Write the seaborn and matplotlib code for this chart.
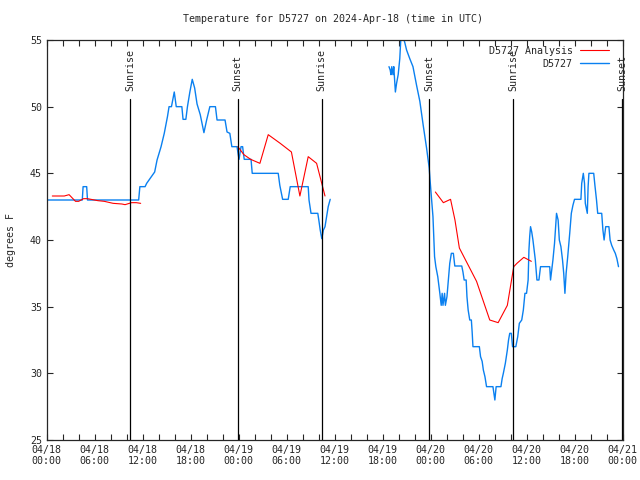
import numpy as np
import pandas as pd
import matplotlib
matplotlib.use("Agg")
import matplotlib.pyplot as plt
import matplotlib.dates as mdates
from matplotlib.lines import Line2D
import seaborn as sns

# ------------------------------------------------------------------
# data (hours after 2024-04-18 00:00 UTC, degrees F)
# ------------------------------------------------------------------
obs_a_hr = [0.16, 4.45, 4.55, 5.0, 5.1, 11.5, 11.65, 12.3, 12.5, 13.5, 13.8, 14.3, 14.7,
            15.1, 15.3, 15.6, 15.95, 16.2, 16.9, 17.05, 17.4, 17.6, 17.9, 18.2, 18.5,
            18.8, 19.2, 19.66, 20.0, 20.2, 20.4, 21.1, 21.3, 22.3, 22.55, 22.9, 23.15,
            23.8, 23.9, 24.05, 24.3, 24.5, 24.6, 24.7, 25.55, 25.7, 28.95, 29.15, 29.5,
            30.2, 30.45, 32.7, 32.8, 33.05, 33.9, 34.05, 34.2, 34.4, 34.6, 34.8, 35.0,
            35.2, 35.45]
obs_a_t = [43, 43, 44, 44, 43, 43, 44, 44, 44.25, 45.1, 46, 47, 48,
           49.25, 50, 50, 51.1, 50, 50, 49.05, 49.05, 50, 51.1, 52.05, 51.4,
           50.2, 49.4, 48.05, 49, 49.5, 50, 50, 49, 49, 48.1, 48, 47,
           47, 46.6, 46.05, 47, 47, 46.5, 46.05, 46.05, 45, 45, 44.1, 43.05,
           43.05, 44, 44, 43, 42, 42, 41.4, 40.75, 40.1, 40.75, 41, 41.75,
           42.5, 43.05]

obs_b_hr = [42.8, 42.95, 43.05, 43.15, 43.3, 43.4, 43.6, 43.75, 43.95, 44.15, 44.3, 44.55,
            44.8, 45.0, 45.4, 45.8, 46.25, 46.66, 47.08, 47.5, 47.83, 47.95, 48.1, 48.3,
            48.4, 48.5, 48.66, 48.9, 49.16, 49.33, 49.45, 49.55, 49.75, 49.85, 50.05,
            50.4, 50.6, 50.85, 51.03, 51.9, 52.05, 52.2, 52.45, 52.55, 52.7, 52.9, 53.1,
            53.2, 53.3, 54.1, 54.25, 54.45, 54.6, 54.8, 55.0, 55.8, 56.04, 56.2, 56.8,
            56.95, 57.1, 57.35, 57.6, 57.75, 57.9, 58.1, 58.25, 58.66, 58.9, 59.1, 59.4,
            59.6, 59.8, 60.0, 60.2, 60.3, 60.4, 60.5, 60.65, 60.8, 60.95, 61.1, 61.3,
            61.55, 61.75, 62.9, 63.0, 63.15, 63.3, 63.5, 63.75, 63.95, 64.1, 64.3, 64.5,
            64.65, 64.8, 64.95, 65.15, 65.4, 65.6, 65.8, 66.0, 66.8, 66.9, 67.1, 67.25,
            67.35, 67.6, 67.7, 67.8, 68.4, 68.55, 68.75, 68.9, 69.4, 69.55, 69.7, 69.8,
            69.9, 70.3, 70.45, 70.65, 70.9, 71.1, 71.3, 71.5]
obs_b_t = [53, 52.75, 52.4, 53, 52.4, 53, 51.1, 51.75, 52.4, 53.6, 55.3, 55.3,
           54.75, 54.25, 53.6, 53, 51.6, 50.4, 48.6, 46.9, 45.4, 44.4, 43.25, 41.75,
           40.25, 38.75, 38.0, 37.25, 36.0, 35.1, 36, 35.1, 36, 35.1, 35.75,
           38.25, 39.0, 39.0, 38.05, 38.05, 37.6, 37, 37, 35.75, 34.75, 34, 34,
           33.1, 32, 32, 31.25, 30.9, 30.25, 29.75, 29.0, 29.0, 28.0, 29, 29,
           29.6, 30, 30.75, 31.75, 32.5, 33.0, 33.0, 32, 32, 32.75, 33.75, 34,
           34.75, 36, 36, 37, 39.25, 40.3, 41, 40.6, 40, 39.25, 38.5, 37,
           37, 38, 38, 37, 37.75, 38.5, 39.75, 42, 41.5, 40, 39.5, 38.5,
           37.5, 36, 37.5, 38.75, 40.5, 42, 42.6, 43.05, 43.05, 44.25, 45, 44.25,
           42.75, 42, 44, 45, 45, 44.1, 43, 42, 42, 40.75, 40, 40.5,
           41, 41, 40, 39.6, 39.25, 39, 38.6, 38]

ana_a_hr = [0.7, 2.2, 2.8, 3.6, 4.0, 4.6, 5.1, 6.4, 7.2, 8.3, 9.4, 9.8, 10.6, 11.2, 11.75]
ana_a_t = [43.3, 43.3, 43.4, 42.9, 42.9, 43.1, 43.1, 42.95, 42.9, 42.75, 42.7, 42.65,
           42.8, 42.8, 42.75]
ana_b_hr = [23.9, 24.66, 25.5, 26.66, 27.7, 29.2, 30.6, 31.66, 32.7, 33.75, 34.8]
ana_b_t = [47.0, 46.4, 46.05, 45.75, 47.9, 47.25, 46.6, 43.3, 46.25, 45.75, 43.3]
ana_c_hr = [48.6, 49.6, 50.5, 51.05, 51.6, 53.75, 55.4, 56.45, 57.6, 58.4, 58.8, 59.66, 60.6]
ana_c_t = [43.6, 42.8, 43.05, 41.5, 39.4, 36.9, 34.0, 33.8, 35.1, 38.0, 38.25, 38.7, 38.4]

sun_hr = [10.45, 23.87, 34.37, 47.83, 58.33, 71.93]
sun_lbl = ["Sunrise", "Sunset", "Sunrise", "Sunset", "Sunrise", "Sunset"]

t0 = pd.Timestamp("2024-04-18 00:00")


def to_frame(hrs, temps, seg):
    return pd.DataFrame({"time": t0 + pd.to_timedelta(hrs, unit="h"),
                         "temp": temps, "seg": seg})


obs = pd.concat([to_frame(obs_a_hr, obs_a_t, 0), to_frame(obs_b_hr, obs_b_t, 1)],
                ignore_index=True)
ana = pd.concat([to_frame(ana_a_hr, ana_a_t, 0), to_frame(ana_b_hr, ana_b_t, 1),
                 to_frame(ana_c_hr, ana_c_t, 2)], ignore_index=True)

# ------------------------------------------------------------------
# style
# ------------------------------------------------------------------
sns.set_style("ticks")
plt.rcParams["font.family"] = ["DejaVu Sans Mono"]
plt.rcParams["font.size"] = 7.2

fig = plt.figure(figsize=(6.4, 4.8), dpi=100)
ax = fig.add_axes([46.7 / 640, 40 / 480, (622.5 - 46.7) / 640, 400 / 480])

blue = "#0a80f0"
sns.lineplot(data=obs, x="time", y="temp", units="seg", estimator=None, sort=False,
             color=blue, lw=1.0, ax=ax, legend=False)
sns.lineplot(data=ana, x="time", y="temp", units="seg", estimator=None, sort=False,
             color="red", lw=0.8, ax=ax, legend=False)

for h, lbl in zip(sun_hr, sun_lbl):
    t = t0 + pd.Timedelta(hours=h)
    ax.axvline(t, ymin=0, ymax=0.8525, color="black", lw=0.9)
    ax.text(t, 0.872, lbl, transform=ax.get_xaxis_transform(), rotation=90,
            ha="center", va="bottom", fontsize=7.2, clip_on=False)

ax.set_xlim(t0, t0 + pd.Timedelta(hours=72))
ax.set_ylim(25, 55)
ax.set_yticks(range(25, 56, 5))
ax.xaxis.set_major_locator(mdates.HourLocator(byhour=[0, 6, 12, 18]))
ax.xaxis.set_minor_locator(mdates.HourLocator(interval=2))
ax.xaxis.set_major_formatter(mdates.DateFormatter("%m/%d\n%H:%M"))
ax.tick_params(which="both", direction="in", top=True, right=True, length=4,
               width=0.8, labelsize=7.2)
for s in ax.spines.values():
    s.set_linewidth(0.9)
ax.set_xlabel("")
ax.set_ylabel("")

handles = [Line2D([], [], color="red", lw=0.8), Line2D([], [], color=blue, lw=1.0)]
ax.legend(handles, ["D5727 Analysis", "D5727"], loc="upper right", markerfirst=False,
          frameon=False, handlelength=2.9, handletextpad=0.7, labelspacing=0.3,
          bbox_to_anchor=(1 - 5 / 576, 1 + 3 / 400), fontsize=7.2)

fig.text(333 / 640, 1 - 19 / 480, "Temperature for D5727 on 2024-Apr-18 (time in UTC)",
         ha="center", va="center", fontsize=7.2)
fig.text(11 / 640, 0.5, "degrees F", rotation=90, ha="center", va="center", fontsize=7.2)

fig.savefig("out.png", dpi=100)
